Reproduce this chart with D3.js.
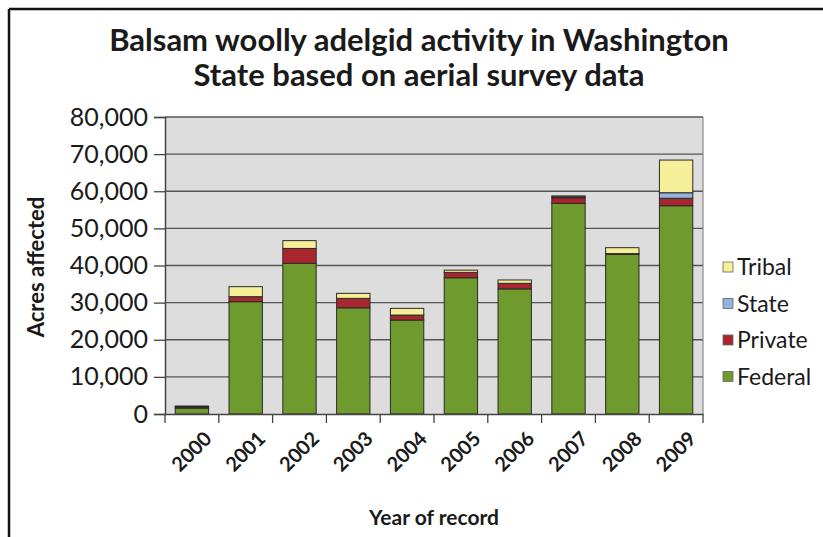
<!DOCTYPE html>
<html>
<head>
<meta charset="utf-8">
<script src="https://cdn.jsdelivr.net/npm/d3@7"></script>
<style>
  html, body { margin: 0; padding: 0; background: #fff; }
  svg { display: block; }
  text { font-family: Lato, "Open Sans", sans-serif; fill: #1a1a1a; }
</style>
</head>
<body>
<svg id="chart" width="823" height="537"></svg>
<script>
// ---- data ----
const years   = ["2000","2001","2002","2003","2004","2005","2006","2007","2008","2009"];
const federal = [1600, 30250, 40600, 28600, 25300, 36700, 33700, 56750, 43000, 56100];
const priv    = [300, 1350, 4000, 2550, 1350, 1450, 1500, 1500, 200, 2000];
const state   = [0, 0, 0, 0, 0, 0, 0, 200, 0, 1500];
const tribal  = [250, 2700, 2100, 1350, 1800, 600, 900, 300, 1600, 8800];
const seriesNames = ["Federal", "Private", "State", "Tribal"];
const yTicks = [0, 10000, 20000, 30000, 40000, 50000, 60000, 70000, 80000];
const titleLines = ["Balsam woolly adelgid activity in Washington", "State based on aerial survey data"];

const colors = { Federal: "#6f9a2e", Private: "#a8262e", State: "#92b4dc", Tribal: "#f4ef98" };

const rows = years.map((yr, i) => ({ year: yr, Federal: federal[i], Private: priv[i], State: state[i], Tribal: tribal[i] }));

const svg = d3.select("#chart");

// outer frame (top & left edges visible)
svg.append("line").attr("x1", 9).attr("x2", 823).attr("y1", 9).attr("y2", 9).attr("stroke", "#111").attr("stroke-width", 2.5);
svg.append("line").attr("x1", 9).attr("x2", 9).attr("y1", 9).attr("y2", 537).attr("stroke", "#111").attr("stroke-width", 2.5);

const L = 165, R = 703, T = 117, B = 414;
const x = d3.scaleBand().domain(years).range([L, R]).paddingInner(0.38).paddingOuter(0.19);
const y = d3.scaleLinear().domain([0, 80000]).range([B, T]);

// plot background
svg.append("rect").attr("x", L).attr("y", T).attr("width", R - L).attr("height", B - T).attr("fill", "#dddddd");

// gridlines
svg.append("g").selectAll("line").data(yTicks.filter(d => d > 0)).join("line")
  .attr("x1", L).attr("x2", R).attr("y1", d => y(d)).attr("y2", d => y(d))
  .attr("stroke", "#555").attr("stroke-width", 1.3);

// right border
svg.append("line").attr("x1", R).attr("x2", R).attr("y1", T).attr("y2", B).attr("stroke", "#777").attr("stroke-width", 1);

// stacked bars
const stack = d3.stack().keys(seriesNames)(rows);
svg.append("g").selectAll("g").data(stack).join("g")
  .attr("fill", d => colors[d.key])
  .selectAll("rect").data(d => d.filter(p => p[1] - p[0] > 0)).join("rect")
  .attr("x", d => x(d.data.year)).attr("width", x.bandwidth())
  .attr("y", d => y(d[1])).attr("height", d => y(d[0]) - y(d[1]))
  .attr("stroke", "#2a2a2a").attr("stroke-width", 1);

// y axis
const yAxis = d3.axisLeft(y).tickValues(yTicks).tickSize(11).tickPadding(6).tickFormat(d3.format(","));
const gy = svg.append("g").attr("transform", `translate(${L},0)`).call(yAxis);
gy.select(".domain").attr("stroke", "#444").attr("stroke-width", 1.5);
gy.selectAll(".tick line").attr("stroke", "#444").attr("stroke-width", 1.3);
gy.selectAll(".tick text").attr("font-size", 25).attr("font-family", "Lato, sans-serif").attr("fill", "#1a1a1a");

// x axis
const xAxis = d3.axisBottom(x).tickSize(0).tickFormat(d => d);
const gx = svg.append("g").attr("transform", `translate(0,${B})`).call(xAxis);
gx.select(".domain").attr("stroke", "#444").attr("stroke-width", 1.5);
// boundary ticks between categories
const bounds = d3.range(years.length + 1).map(i => L + i * x.step());
gx.selectAll(".bt").data(bounds).join("line").attr("class", "bt")
  .attr("x1", d => d).attr("x2", d => d).attr("y1", 0).attr("y2", 9)
  .attr("stroke", "#444").attr("stroke-width", 1.3);
gx.selectAll(".tick text")
  .attr("font-size", 20).attr("font-weight", "bold").attr("font-family", "Lato, sans-serif").attr("fill", "#1a1a1a")
  .attr("text-anchor", "end").attr("dy", null).attr("y", 0)
  .attr("transform", "translate(21,26) rotate(-45)");

// axis titles
svg.append("text").attr("transform", "translate(44,267) rotate(-90)").attr("text-anchor", "middle")
  .attr("font-size", 22).attr("font-weight", "bold").text("Acres affected");
svg.append("text").attr("x", 434).attr("y", 525).attr("text-anchor", "middle")
  .attr("font-size", 21).attr("font-weight", "bold").text("Year of record");

// title
svg.append("g").selectAll("text").data(titleLines).join("text")
  .attr("x", 419).attr("y", (d, i) => 51 + i * 35).attr("text-anchor", "middle")
  .attr("font-size", 31).attr("font-weight", "bold").text(d => d);

// legend
const legendKeys = ["Tribal", "State", "Private", "Federal"];
const lg = svg.append("g").selectAll("g").data(legendKeys).join("g")
  .attr("transform", (d, i) => `translate(723,${267 + i * 36.5})`);
lg.append("rect").attr("x", 0).attr("y", -5).attr("width", 10).attr("height", 10)
  .attr("fill", d => colors[d]).attr("stroke", "#666").attr("stroke-width", 0.8);
lg.append("text").attr("x", 14).attr("y", 0).attr("dy", "0.35em").attr("font-size", 23).text(d => d);
</script>
</body>
</html>
